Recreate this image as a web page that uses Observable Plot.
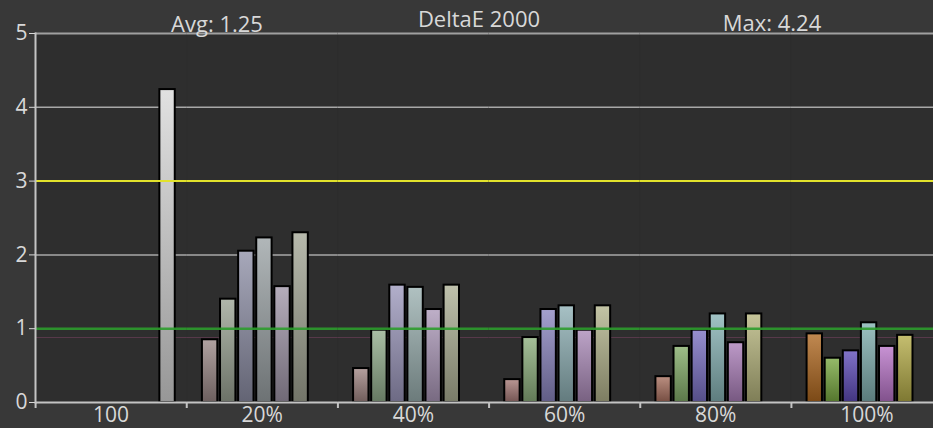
<!DOCTYPE html>
<html>
<head>
<meta charset="utf-8">
<script src="https://cdn.jsdelivr.net/npm/d3@7"></script>
<script src="https://cdn.jsdelivr.net/npm/@observablehq/plot@0.6"></script>
<style>
  html, body { margin: 0; padding: 0; background: #383838; }
  #wrap { position: relative; width: 933px; height: 428px; overflow: hidden; font-family: "Open Sans", sans-serif; }
  .hdr { position: absolute; color: #d8d8d8; font-size: 22px; line-height: 22px; white-space: nowrap; transform: translateX(-50%); }
</style>
</head>
<body>
<div id="wrap"></div>
<script>
// ---- data ----
const groups = ["100", "20%", "40%", "60%", "80%", "100%"];
const channels = ["R", "G", "B", "C", "M", "Y", "W"];

const redValues     = [null, 0.85, 0.46, 0.31, 0.35, 0.93];
const greenValues   = [null, 1.40, 0.98, 0.88, 0.76, 0.60];
const blueValues    = [null, 2.05, 1.59, 1.26, 0.98, 0.70];
const cyanValues    = [null, 2.23, 1.56, 1.31, 1.20, 1.08];
const magentaValues = [null, 1.57, 1.26, 0.98, 0.81, 0.76];
const yellowValues  = [null, 2.30, 1.59, 1.31, 1.20, 0.91];
const whiteValues   = [4.24, null, null, null, null, null];

const redColors     = [null, "#9a8886", "#a08582", "#a67a76", "#a8705e", "#b06820"];
const greenColors   = [null, "#9aa393", "#92ad8c", "#8cae7c", "#82ac68", "#78a840"];
const blueColors    = [null, "#8e8fa6", "#9c98bc", "#8a85c0", "#7a70c2", "#5e4cb8"];
const cyanColors    = [null, "#9ba3a5", "#9ab0b0", "#8eb0b4", "#86b2b4", "#80b0b0"];
const magentaColors = [null, "#a096a8", "#ac98b8", "#ab8ab8", "#aa7eb8", "#b874c8"];
const yellowColors  = [null, "#a3a595", "#adb094", "#b2b38c", "#b6b47c", "#b4ac48"];
const whiteColors   = ["#d8d8d8", null, null, null, null, null];

const yTicks = [0, 1, 2, 3, 4, 5];
const gridLevels = [2, 4];
const edgeLevels = [0, 5];
const yellowLevel = 3;
const greenLevel = 1;
const faintLevel = 0.88;

const avgText = "Avg: 1.25";
const titleText = "DeltaE 2000";
const maxText = "Max: 4.24";

// ---- table ----
const series = [redValues, greenValues, blueValues, cyanValues, magentaValues, yellowValues, whiteValues];
const palettes = [redColors, greenColors, blueColors, cyanColors, magentaColors, yellowColors, whiteColors];
const rows = [];
groups.forEach((g, i) => channels.forEach((c, j) => {
  const v = series[j][i];
  if (v != null) rows.push({group: g, channel: c, value: v, color: palettes[j][i], id: `grad-${i}-${j}`});
}));

const svg = Plot.plot({
  width: 942,
  height: 428,
  marginLeft: 35,
  marginRight: 0,
  marginTop: 33,
  marginBottom: 26,
  style: {background: "#383838", fontFamily: "Open Sans, sans-serif", fontSize: "20px", color: "#d8d8d8", maxWidth: "none"},
  fx: {domain: groups, padding: 0, round: false, label: null},
  x: {domain: channels, paddingInner: 0.15, paddingOuter: 0.75, align: 0.58, round: false, axis: null},
  y: {domain: [0, 5], label: null},
  color: {type: "identity"},
  marks: [
    Plot.frame({fill: "#2e2e2e", stroke: "#2e2e2e", strokeWidth: 1}),
    Plot.ruleY(gridLevels, {stroke: "#a8a8a8", strokeWidth: 1.5}),
    Plot.ruleY([faintLevel], {stroke: "#5a3a4c", strokeWidth: 1}),
    Plot.barY(rows, {fx: "group", x: "channel", y: "value", fill: d => `url(#${d.id})`, stroke: "#000", strokeWidth: 2}),
    Plot.ruleY([yellowLevel], {stroke: "#e2e22c", strokeWidth: 2}),
    Plot.ruleY([greenLevel], {stroke: "#2c9c2c", strokeWidth: 2.5, strokeOpacity: 0.9}),
    Plot.ruleY([edgeLevels[1]], {stroke: "#a0a0a0", strokeWidth: 2}),
    Plot.ruleY([edgeLevels[0]], {stroke: "#c4c4c4", strokeWidth: 2}),
    Plot.frame({anchor: "left", facetAnchor: "left", stroke: "#c4c4c4", strokeWidth: 2}),
    Plot.axisY({ticks: yTicks, tickFormat: "d", tickSize: 6, tickPadding: 2, fontSize: 21, color: "#d8d8d8", label: null}),
    Plot.axisFx({anchor: "bottom", tickSize: 6, tickFormat: () => "", dx: -75.5, stroke: "#c4c4c4", strokeWidth: 2, label: null}),
    Plot.axisFx({anchor: "bottom", tickSize: 0, tickPadding: 5, fontSize: 21, color: "#d8d8d8", label: null})
  ]
});

const defs = d3.select(svg).insert("defs", ":first-child");
rows.forEach(r => {
  const lg = defs.append("linearGradient").attr("id", r.id)
    .attr("x1", 0).attr("y1", 0).attr("x2", 0).attr("y2", 1);
  lg.append("stop").attr("offset", "0%").attr("stop-color", d3.interpolateRgb(r.color, "#ffffff")(0.22));
  lg.append("stop").attr("offset", "100%").attr("stop-color", d3.interpolateRgb(r.color, "#000000")(0.3));
});

const wrap = document.getElementById("wrap");
wrap.appendChild(svg);

function header(text, cx, top) {
  const el = document.createElement("div");
  el.className = "hdr";
  el.textContent = text;
  el.style.left = cx + "px";
  el.style.top = top + "px";
  wrap.appendChild(el);
}
header(avgText, 217, 11.5);
header(titleText, 479, 6.5);
header(maxText, 772, 10.5);
</script>
</body>
</html>
